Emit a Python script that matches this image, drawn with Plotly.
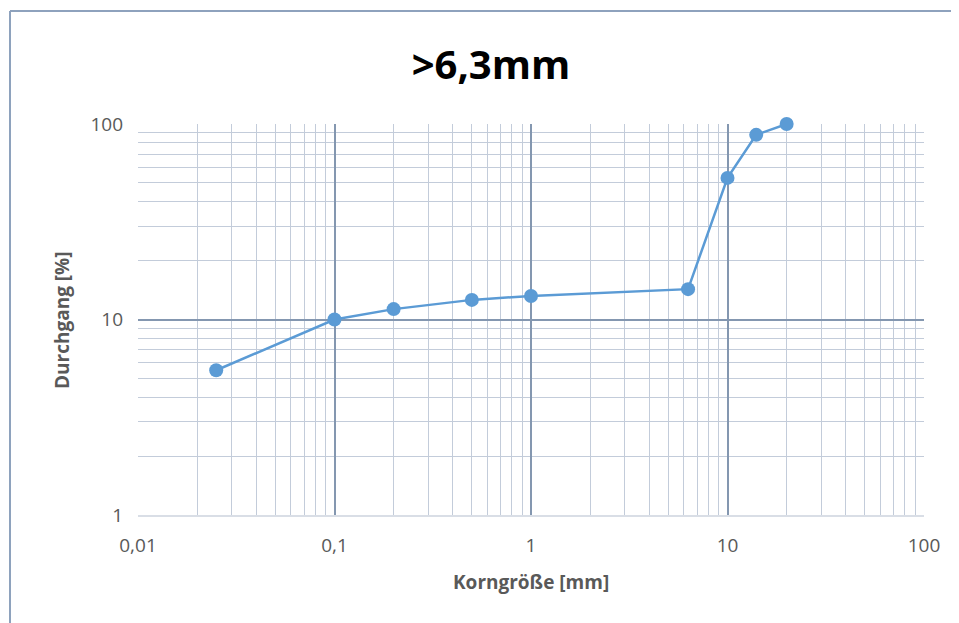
import plotly.graph_objects as go

# Sieblinie >6,3mm
korngroesse = [0.025, 0.1, 0.2, 0.5, 1, 6.3, 10, 14, 20]
durchgang = [5.5, 10, 11.3, 12.6, 13.2, 14.3, 53, 88, 100]

x_tickvals = [0.01, 0.1, 1, 10, 100]
x_ticktext = ["0,01", "0,1", "1", "10", "100"]
y_tickvals = [1, 10, 100]
y_ticktext = ["1", "10", "100"]

# page has an 8px body margin, so the figure is a bit smaller
OFF = 8
W, H = 959 - OFF, 623 - OFF
L, R, T, B = 138 - OFF, 35, 124 - OFF, 108
pw, ph = W - L - R, H - T - B

def px(x):
    return (x - OFF - L) / pw

def py(y):
    return (H - B - (y - OFF)) / ph

major = "#8497b0"
minor = "#c3ccda"
txt = "#595959"
font = "Open Sans"

fig = go.Figure()
fig.add_trace(go.Scatter(
    x=korngroesse, y=durchgang, mode="lines+markers",
    line=dict(color="#5b9bd5", width=2.5),
    marker=dict(size=14, color="#5b9bd5"),
    cliponaxis=False, showlegend=False))

fig.update_xaxes(
    type="log", range=[-2, 2],
    tickvals=x_tickvals, ticktext=x_ticktext,
    showgrid=True, gridcolor=major, gridwidth=1.5,
    minor=dict(dtick="D1", showgrid=True, gridcolor=minor, gridwidth=1.2),
    showline=True, linecolor="#d9dee6", linewidth=2, mirror=False,
    zeroline=False, ticks="", ticklabelstandoff=12,
    tickfont=dict(family=font, size=19, color=txt))

fig.update_yaxes(
    type="log", range=[0, 2],
    tickvals=y_tickvals, ticktext=y_ticktext,
    showgrid=True, gridcolor=major, gridwidth=1.5,
    minor=dict(dtick="D1", showgrid=True, gridcolor=minor, gridwidth=1.2),
    showline=False, zeroline=False, ticks="", ticklabelstandoff=14,
    tickfont=dict(family=font, size=19, color=txt))

# axis titles
fig.add_annotation(text="<b>Korngröße [mm]</b>", xref="paper", yref="paper",
                   x=px(531), y=py(582), xanchor="center", yanchor="middle",
                   showarrow=False, font=dict(family=font, size=19, color=txt))
fig.add_annotation(text="<b>Durchgang [%]</b>", xref="paper", yref="paper",
                   x=px(62), y=py(320), xanchor="center", yanchor="middle",
                   showarrow=False, textangle=-90,
                   font=dict(family=font, size=19, color=txt))

# frame of the chart area: only left and top edges are visible
frame = dict(color="#8ea2bd", width=2)
fig.add_shape(type="line", xref="paper", yref="paper",
              x0=px(10), x1=px(10), y0=py(623), y1=py(11), line=frame, layer="below")
fig.add_shape(type="line", xref="paper", yref="paper",
              x0=px(10), x1=px(959), y0=py(11), y1=py(11), line=frame, layer="below")

fig.update_layout(
    width=W, height=H,
    margin=dict(l=L, r=R, t=T, b=B),
    paper_bgcolor="white", plot_bgcolor="white",
    title=dict(text="<b>>6,3mm</b>", x=(491 - OFF) / W, xanchor="center",
               y=1 - (65 - OFF) / H, yanchor="middle",
               font=dict(family=font, size=40, color="black")))

fig.write_html("out.html", config={"displayModeBar": False})
